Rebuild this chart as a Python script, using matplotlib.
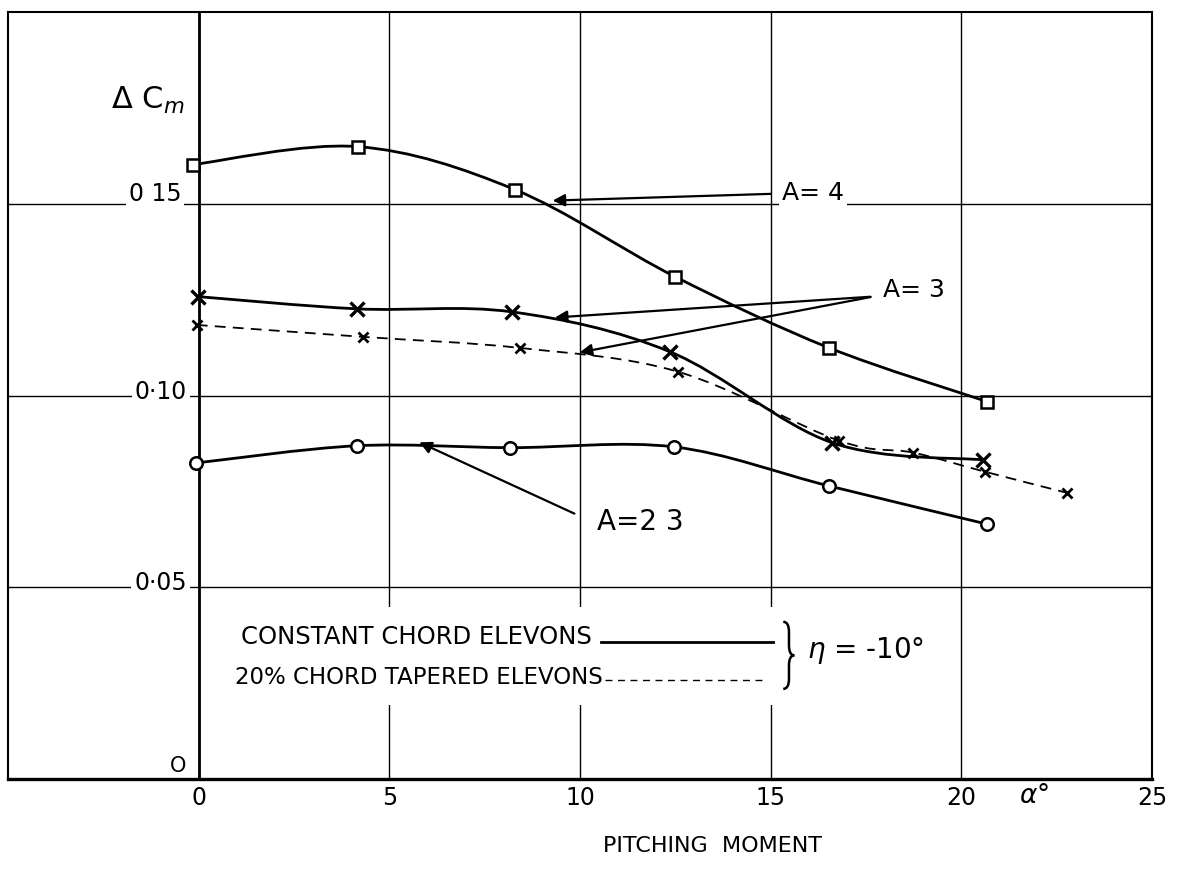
import matplotlib
matplotlib.use("Agg")
import matplotlib.pyplot as plt
import numpy as np
from matplotlib.path import Path
from matplotlib.patches import PathPatch, Rectangle

# data (alpha in degrees, delta Cm)
a4_x = [-0.16, 4.17, 8.29, 12.49, 16.54, 20.68]
a4_y = [0.1602, 0.1649, 0.1537, 0.1310, 0.1124, 0.0984]

a3_x = [-0.03, 4.15, 8.22, 12.36, 16.61, 20.58]
a3_y = [0.1258, 0.1226, 0.1218, 0.1114, 0.0877, 0.0832]

a3t_x = [-0.05, 4.30, 8.43, 12.57, 16.80, 18.74, 20.63, 22.78]
a3t_y = [0.1184, 0.1153, 0.1124, 0.1062, 0.0882, 0.0851, 0.0801, 0.0746]

a23_x = [-0.08, 4.15, 8.16, 12.47, 16.54, 20.66]
a23_y = [0.0824, 0.0869, 0.0864, 0.0866, 0.0764, 0.0665]

xticks = [0, 5, 10, 15, 20, 25]
xticklabels = ["0", "5", "10", "15", "20", "25"]
yticks = [0.05, 0.10, 0.15]
yticklabels = ["0·05", "0·10", "0 15"]

plt.rcParams['font.family'] = ['DejaVu Sans']


def smooth(xs, ys):
    # catmull-rom curve through the points, drawn as bezier path
    p = np.column_stack([xs, ys])
    verts = [p[0]]
    codes = [Path.MOVETO]
    n = len(p)
    for i in range(n - 1):
        p0 = p[i - 1] if i > 0 else p[i]
        p1 = p[i]
        p2 = p[i + 1]
        p3 = p[i + 2] if i + 2 < n else p[i + 1]
        verts += [p1 + (p2 - p0) / 6, p2 - (p3 - p1) / 6, p2]
        codes += [Path.CURVE4] * 3
    return Path(verts, codes)


def brace(x0, xm, xt, ytop, ybot):
    yc = (ytop + ybot) / 2
    d = (ytop - ybot) * 0.15
    verts = [(x0, ytop), (xm, ytop), (xm, ytop - d),
             (xm, yc + d),
             (xm, yc), (xt, yc),
             (xm, yc), (xm, yc - d),
             (xm, ybot + d),
             (xm, ybot), (x0, ybot)]
    codes = [Path.MOVETO, Path.CURVE3, Path.CURVE3,
             Path.LINETO,
             Path.CURVE3, Path.CURVE3,
             Path.CURVE3, Path.CURVE3,
             Path.LINETO,
             Path.CURVE3, Path.CURVE3]
    return Path(verts, codes)


fig = plt.figure(figsize=(11.79, 8.89), dpi=100)
ax = fig.add_axes([0.0068, 0.1237, 0.9703, 0.8628])
ax.set_xlim(-5, 25)
ax.set_ylim(0, 0.2)

ax.set_xticks(xticks)
ax.set_xticklabels(xticklabels, fontsize=17)
ax.set_yticks(yticks)
ax.set_yticklabels([])
ax.tick_params(length=0, pad=5)
ax.grid(True, color='black', lw=1.0)
ax.set_axisbelow(True)
for s in ax.spines.values():
    s.set_linewidth(1.5)
ax.spines['bottom'].set_linewidth(2.4)
ax.axvline(0, color='black', lw=2.0, zorder=1)

# legend box blanks the grid
ax.add_patch(Rectangle((0.15, 0.0193), 19.3, 0.0256, facecolor='white',
                       edgecolor='none', zorder=1.5))

# curves
ax.add_patch(PathPatch(smooth(a4_x, a4_y), fill=False, lw=2.0, zorder=3))
ax.add_patch(PathPatch(smooth(a3_x, a3_y), fill=False, lw=2.0, zorder=3))
ax.add_patch(PathPatch(smooth(a3t_x, a3t_y), fill=False, lw=1.3,
                       ls=(0, (6, 4)), zorder=3))
ax.add_patch(PathPatch(smooth(a23_x, a23_y), fill=False, lw=2.0, zorder=3))

ax.plot(a4_x, a4_y, 's', ms=8, mfc='white', mec='black', mew=1.8, zorder=4)
ax.plot(a3_x, a3_y, 'x', ms=10, mec='black', mew=2.4, zorder=4)
ax.plot(a3t_x, a3t_y, 'x', ms=7, mec='black', mew=2.0, zorder=4)
ax.plot(a23_x, a23_y, 'o', ms=9, mfc='white', mec='black', mew=1.8, zorder=4)

# y labels drawn inside the frame
box = dict(facecolor='white', edgecolor='none', pad=2)
ax.text(-0.45, 0.1525, yticklabels[2], fontsize=17, ha='right', va='center', bbox=box, zorder=2)
ax.text(-0.31, 0.1010, yticklabels[1], fontsize=17, ha='right', va='center', bbox=box, zorder=2)
ax.text(-0.31, 0.0510, yticklabels[0], fontsize=17, ha='right', va='center', bbox=box, zorder=2)
ax.text(-0.55, 0.0035, "O", fontsize=15, ha='center', va='center', zorder=2)
ax.text(-2.3, 0.1770, r'$\Delta\ \mathsf{C}_{\mathit{m}}$', fontsize=22, ha='left', va='center')
ax.text(21.9, -0.0045, r'$\alpha$°', fontsize=19, ha='center', va='center')
fig.text(0.604, 0.048, "PITCHING  MOMENT", fontsize=16, ha='center', va='center')

# annotations
arrow = dict(arrowstyle='-|>', color='black', lw=1.6, mutation_scale=18)
ax.text(15.3, 0.1527, "A= 4", fontsize=18, ha='left', va='center', bbox=box, zorder=2)
ax.annotate("", xy=(9.21, 0.1508), xytext=(15.07, 0.1526), arrowprops=arrow, zorder=5)
ax.text(17.95, 0.1275, "A= 3", fontsize=18, ha='left', va='center')
ax.annotate("", xy=(9.27, 0.1203), xytext=(17.69, 0.1258), arrowprops=arrow, zorder=5)
ax.annotate("", xy=(9.92, 0.1111), xytext=(17.69, 0.1258), arrowprops=arrow, zorder=5)
ax.text(10.45, 0.0670, "A=2 3", fontsize=20, ha='left', va='center')
ax.annotate("", xy=(5.72, 0.0881), xytext=(9.92, 0.0689), arrowprops=arrow, zorder=5)

# legend
ax.text(1.1, 0.0370, "CONSTANT CHORD ELEVONS", fontsize=17.5, ha='left', va='center', zorder=3)
ax.plot([10.55, 15.07], [0.0357, 0.0357], color='black', lw=2.0, zorder=3)
ax.text(0.94, 0.0266, "20% CHORD TAPERED ELEVONS", fontsize=16.5, ha='left', va='center', zorder=3)
ax.plot([10.66, 14.9], [0.0258, 0.0258], color='black', lw=1.0, ls=(0, (5, 4)), zorder=3)
ax.add_patch(PathPatch(brace(15.33, 15.48, 15.62, 0.0410, 0.0235), fill=False,
                       lw=1.8, zorder=3))
ax.text(15.95, 0.0335, r"$\eta$ = -10°", fontsize=20, ha='left', va='center', zorder=3)

fig.savefig("out.png", dpi=100)
